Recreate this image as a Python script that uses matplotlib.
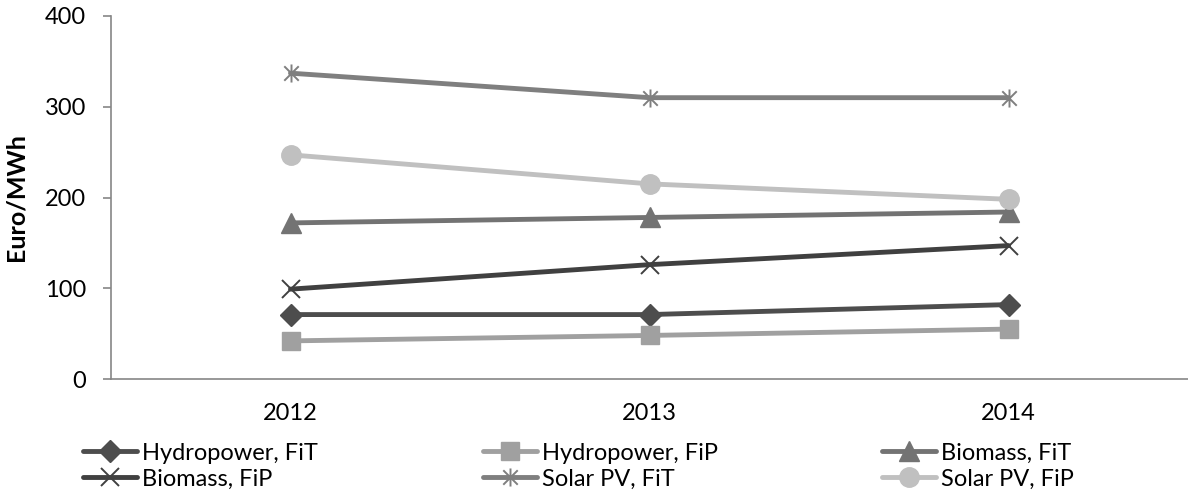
import numpy as np
import matplotlib
matplotlib.use("Agg")
import matplotlib.pyplot as plt
from matplotlib.path import Path

plt.rcParams['font.family'] = ['Lato', 'DejaVu Sans']

years = ['2012', '2013', '2014']
hydro_fit = [71, 71, 82]
hydro_fip = [42, 48, 55]
biomass_fit = [172, 178, 184]
biomass_fip = [99, 126, 147]
solar_fit = [337, 310, 310]
solar_fip = [247, 215, 198]

# Excel-style star: an x with a vertical stroke through it
star = Path([(-1, -1), (1, 1), (-1, 1), (1, -1), (0, -1.25), (0, 1.25)],
            [Path.MOVETO, Path.LINETO, Path.MOVETO, Path.LINETO, Path.MOVETO, Path.LINETO])

series = [
    ("Hydropower, FiT", hydro_fit, "#4d4d4d", dict(marker='D', markersize=11)),
    ("Hydropower, FiP", hydro_fip, "#a0a0a0", dict(marker='s', markersize=13)),
    ("Biomass, FiT", biomass_fit, "#737373", dict(marker='^', markersize=14)),
    ("Biomass, FiP", biomass_fip, "#404040", dict(marker='x', markersize=13, markeredgewidth=1.4)),
    ("Solar PV, FiT", solar_fit, "#7f7f7f", dict(marker=star, markersize=13, markeredgewidth=1.4,
                                                  fillstyle='none')),
    ("Solar PV, FiP", solar_fip, "#c0c0c0", dict(marker='o', markersize=14)),
]

W, H = 1188, 495
fig = plt.figure(figsize=(W / 100, H / 100), dpi=100)
ax = fig.add_axes([111 / W, 1 - 379 / H, 1077 / W, 363 / H])

x = np.arange(len(years))
handles = []
for label, vals, color, mk in series:
    ln, = ax.plot(x, vals, color=color, lw=3.5, solid_capstyle='round',
                  markerfacecolor=color, markeredgecolor=color, label=label,
                  clip_on=False, **mk)
    handles.append(ln)

ax.set_xlim(-0.5, 2.5)
ax.set_ylim(0, 400)
ax.set_yticks([0, 100, 200, 300, 400])
ax.set_xticks(x)
ax.set_xticklabels(years)

for s in ['top', 'right']:
    ax.spines[s].set_visible(False)
for s in ['left', 'bottom']:
    ax.spines[s].set_color('#868686')
    ax.spines[s].set_linewidth(1.2)

ax.tick_params(axis='y', direction='out', length=6, width=1.2, color='#868686',
               labelsize=17, pad=12)
ax.tick_params(axis='x', length=0, labelsize=17, pad=17)
ax.set_ylabel("Euro/MWh", fontsize=18, fontweight='bold', va='center')
ax.yaxis.set_label_coords((16.5 - 111) / 1077, 0.5)

# legend: three columns of two entries each
cols = [(handles[0], handles[3]), (handles[1], handles[4]), (handles[2], handles[5])]
col_x = [78, 478, 877]
for hs, cx in zip(cols, col_x):
    fig.legend(handles=list(hs), labels=[h.get_label() for h in hs],
               loc='upper left', bbox_to_anchor=(cx / W, 1 - 438 / H),
               frameon=False, fontsize=17, handlelength=2.3, handletextpad=0.2,
               labelspacing=0.2, borderaxespad=0, borderpad=0.2)

fig.savefig("out.png", dpi=100)
